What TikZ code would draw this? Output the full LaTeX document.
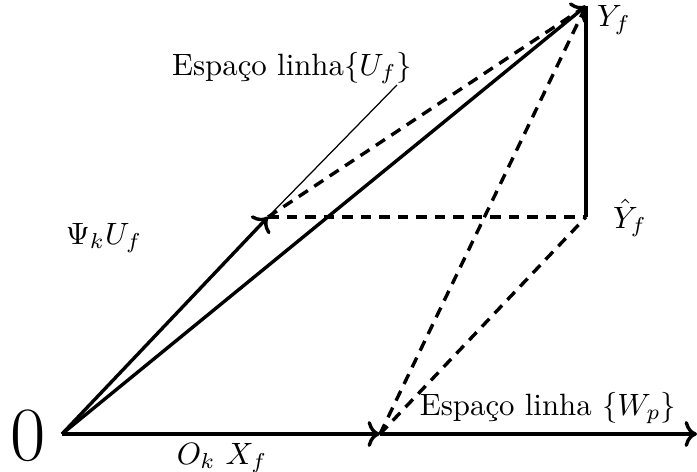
\documentclass[tikz,border=0pt]{standalone}
\usepackage{amsmath,amssymb}
\usepackage{tikz}
\usetikzlibrary{arrows.meta,positioning,calc}

\begin{document}
\begin{tikzpicture}[
  x=0.0114cm, y=0.0114cm, >=To, thick,
  vec/.style={->, line width=1.1pt},
  proj/.style={dash pattern=on 3.5pt off 2.5pt, line width=1.1pt},
  lbl/.style={inner sep=1pt}
]
\useasboundingbox (0,0) rectangle (697,472);
% points
\coordinate (origin) at (62,38);
\coordinate (xf) at (380,38);
\coordinate (axisEnd) at (697,38);
\coordinate (psiU) at (268,255);
\coordinate (yf) at (586,466);
\coordinate (yhat) at (586,255);
\coordinate (ufEnd) at (397,387);

% labels
\node[lbl, font=\Huge] (zero) at (28,36) {0};
\node[lbl] (labYf) at (614,452) {$Y_f$};
\node[lbl] (labYhat) at (630,254) {$\hat{Y}_f$};
\node[lbl] (labUf) at (292,404) {Espaço linha$\{U_f\}$};
\node[lbl] (labPsi) at (104,234) {$\Psi_k U_f$};
\node[lbl] (labXf) at (222,14) {$O_k\ X_f$};
\node[lbl] (labWp) at (548,64) {Espaço linha $\{W_p\}$};

% vectors
\draw[vec] (origin) -- (xf);
\draw[vec] (xf) -- (axisEnd);
\draw[vec] (origin) -- (psiU);
\draw[vec] (origin) -- (yf);
\draw[line width=1.1pt] (yhat) -- (yf);
\draw[thin] (psiU) -- (ufEnd);

% projections
\draw[proj] (psiU) -- (yf);
\draw[proj] (psiU) -- (yhat);
\draw[proj] (xf) -- (yf);
\draw[proj] (xf) -- (yhat);
\end{tikzpicture}
\end{document}
